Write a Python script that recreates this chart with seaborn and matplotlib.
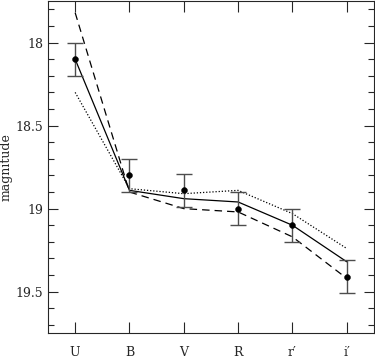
import numpy as np
import pandas as pd
import matplotlib
matplotlib.use("Agg")
import matplotlib.pyplot as plt
import seaborn as sns
from matplotlib.ticker import MultipleLocator

# photometric bands and measured magnitudes
bands = ["U", "B", "V", "R", "r\u2032", "i\u2032"]
observed = [18.10, 18.80, 18.89, 19.00, 19.10, 19.41]
errors = [0.10, 0.10, 0.10, 0.10, 0.10, 0.10]

# model curves
model_solid = [18.10, 18.89, 18.94, 18.96, 19.10, 19.32]
model_dashed = [17.82, 18.90, 19.00, 19.02, 19.17, 19.42]
model_dotted = [18.30, 18.88, 18.91, 18.89, 19.03, 19.24]

sns.set_style("ticks")
plt.rcParams["font.family"] = ["DejaVu Serif"]

x = np.arange(len(bands))
df = pd.DataFrame({"x": x, "solid": model_solid, "dashed": model_dashed,
                   "dotted": model_dotted, "obs": observed, "err": errors})

fig = plt.figure(figsize=(3.75, 3.59), dpi=100)
ax = fig.add_axes([0.128, 0.072, 0.869, 0.925])

sns.lineplot(data=df, x="x", y="solid", ax=ax, color="black", lw=0.9)
sns.lineplot(data=df, x="x", y="dashed", ax=ax, color="black", lw=0.9,
             linestyle=(0, (6, 4)))
sns.lineplot(data=df, x="x", y="dotted", ax=ax, color="black", lw=0.9,
             linestyle=(0, (1, 1.5)))
ax.errorbar(df["x"], df["obs"], yerr=df["err"], fmt="none", ecolor="0.3",
            elinewidth=1.0, capsize=5.5, capthick=1.0)
sns.scatterplot(data=df, x="x", y="obs", ax=ax, color="black", s=18,
                edgecolor="black", zorder=5)

ax.set_xlim(-0.5, 5.5)
ax.set_ylim(19.75, 17.75)
ax.set_xticks(x)
ax.set_xticklabels(bands)
ax.set_yticks([18, 18.5, 19, 19.5])
ax.set_yticklabels(["18", "18.5", "19", "19.5"])
ax.yaxis.set_minor_locator(MultipleLocator(0.1))
ax.tick_params(axis="x", direction="in", top=True, bottom=True, length=8,
               width=0.8, pad=9, labelsize=9)
ax.tick_params(axis="y", which="major", direction="in", left=True, right=True,
               length=7, width=0.8, labelsize=9)
ax.tick_params(axis="y", which="minor", direction="in", left=True, right=True,
               length=4, width=0.8)
for s in ax.spines.values():
    s.set_visible(True)
    s.set_linewidth(0.8)
ax.set_xlabel("")
ax.set_ylabel("magnitude", fontsize=9)
ax.yaxis.set_label_coords(-0.108, 0.5)

fig.savefig("out.png", dpi=100)
